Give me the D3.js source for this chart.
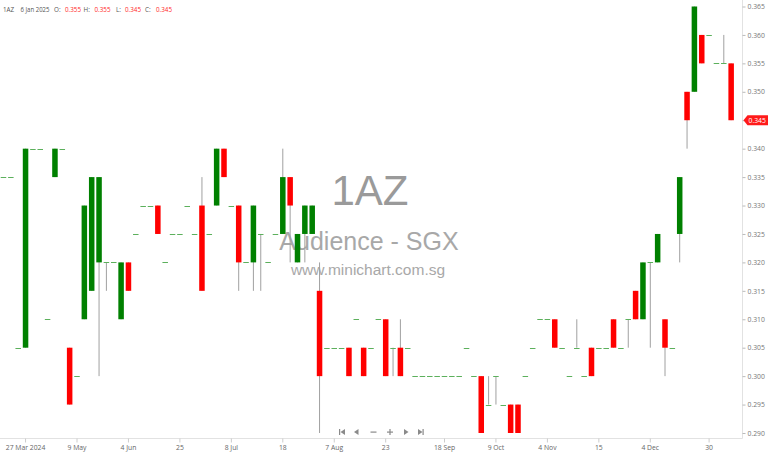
<!DOCTYPE html>
<html>
<head>
<meta charset="utf-8">
<script src="https://cdn.jsdelivr.net/npm/d3@7"></script>
<style>
  body { margin: 0; background: #fff; }
  svg { display: block; font-family: "Open Sans", sans-serif; }
</style>
</head>
<body>
<svg id="chart" width="768" height="454"></svg>
<script>
// daily sessions for 1AZ (only days that traded)
const opens = [
  .335,.335,.305,.305,.340,.340,.310,.335,.340,.305,
  .300,.310,.315,.320,.320,.320,.310,.320,.325,.330,
  .330,.330,.320,.325,.325,.330,.325,.330,.325,.330,
  .340,.330,.330,.320,.320,.325,.320,.325,.325,.335,
  .320,.325,.325,.315,.305,.305,.305,.305,.310,.305,
  .305,.310,.310,.305,.305,.305,.300,.300,.300,.300,
  .300,.300,.300,.305,.300,.300,.295,.300,.295,.295,
  .295,.300,.305,.310,.310,.310,.305,.300,.305,.300,
  .305,.305,.305,.310,.305,.310,.315,.310,.320,.320,
  .310,.305,.325,.350,.350,.360,.360,.355,.355,.355
];
const highs = [
  .335,.335,.305,.340,.340,.340,.310,.340,.340,.305,
  .300,.330,.335,.335,.320,.320,.320,.320,.325,.330,
  .330,.330,.320,.325,.325,.330,.325,.335,.325,.340,
  .340,.330,.330,.320,.330,.325,.320,.325,.340,.335,
  .325,.330,.330,.320,.305,.305,.305,.305,.310,.305,
  .305,.310,.310,.305,.310,.305,.300,.300,.300,.300,
  .300,.300,.300,.305,.300,.300,.300,.300,.295,.295,
  .295,.300,.305,.310,.310,.310,.305,.300,.310,.300,
  .305,.305,.305,.310,.305,.310,.315,.320,.320,.325,
  .310,.305,.335,.350,.365,.360,.360,.355,.360,.355
];
const lows = [
  .335,.335,.305,.305,.340,.340,.310,.335,.340,.295,
  .300,.310,.315,.300,.315,.320,.310,.315,.325,.330,
  .330,.325,.320,.325,.325,.330,.325,.315,.325,.330,
  .335,.330,.315,.320,.315,.315,.320,.325,.325,.320,
  .320,.320,.325,.290,.305,.305,.305,.300,.310,.300,
  .305,.310,.300,.300,.300,.305,.300,.300,.300,.300,
  .300,.300,.300,.305,.300,.290,.295,.295,.295,.290,
  .290,.300,.305,.310,.310,.305,.305,.300,.305,.300,
  .300,.305,.305,.305,.305,.305,.310,.310,.305,.320,
  .300,.305,.320,.340,.350,.355,.360,.355,.355,.345
];
const closes = [
  .335,.335,.305,.340,.340,.340,.310,.340,.340,.295,
  .300,.330,.335,.335,.320,.320,.320,.315,.325,.330,
  .330,.325,.320,.325,.325,.330,.325,.315,.325,.340,
  .335,.330,.320,.320,.330,.325,.320,.325,.335,.330,
  .325,.330,.330,.300,.305,.305,.305,.300,.310,.300,
  .305,.310,.300,.305,.300,.305,.300,.300,.300,.300,
  .300,.300,.300,.305,.300,.290,.295,.300,.295,.290,
  .290,.300,.305,.310,.310,.305,.305,.300,.305,.300,
  .300,.305,.305,.305,.305,.310,.310,.320,.320,.325,
  .305,.305,.335,.345,.365,.355,.360,.355,.355,.345
];

// x axis labels and the session they sit on
const tickIndex = [3, 10, 17, 24, 31, 38, 45, 52, 60, 67, 74, 81, 88, 96];
const tickLabels = ['27 Mar 2024', '9 May', '4 Jun', '25', '8 Jul', '18', '7 Aug',
                    '23', '18 Sep', '9 Oct', '4 Nov', '15', '4 Dec', '30'];
const priceTicks = [0.290, 0.295, 0.300, 0.305, 0.310, 0.315, 0.320, 0.325,
                    0.330, 0.335, 0.340, 0.345, 0.350, 0.355, 0.360, 0.365];

const lastLabel = '6 Jan 2025';

const svg = d3.select('#chart');
const axisX = 742.5, axisY = 438.5;

const x = d3.scaleBand()
  .domain(d3.range(opens.length))
  .range([-0.175, 734.825])
  .paddingInner(0.25)
  .paddingOuter(0.125);

const y = d3.scaleLinear()
  .domain([0.290, 0.365])
  .range([433, 6.5]);

const fmt = d3.format('.3f');

// watermark
const wm = svg.append('g').attr('font-family', '"Liberation Sans", Arial, sans-serif')
  .attr('text-anchor', 'middle');
wm.append('text').attr('x', 370).attr('y', 205).attr('font-size', 42)
  .attr('fill', '#9a9a9a').text('1AZ');
wm.append('text').attr('x', 369).attr('y', 250).attr('font-size', 25)
  .attr('fill', '#a8a8a8').text('Audience - SGX');
wm.append('text').attr('x', 368).attr('y', 275).attr('font-size', 15.5)
  .attr('fill', '#a8a8a8').text('www.minichart.com.sg');

// axes lines
svg.append('line').attr('x1', 0).attr('x2', axisX).attr('y1', axisY).attr('y2', axisY)
  .attr('stroke', '#e2e2e2');
svg.append('line').attr('x1', axisX).attr('x2', axisX).attr('y1', 0).attr('y2', axisY)
  .attr('stroke', '#e2e2e2');

// right price axis
const yAxis = d3.axisRight(y).tickValues(priceTicks).tickFormat(fmt)
  .tickSize(3).tickPadding(2);
const gy = svg.append('g').attr('transform', `translate(${axisX},0)`).call(yAxis);
gy.select('.domain').remove();
gy.selectAll('.tick line').attr('stroke', '#bbb');
gy.selectAll('.tick text').attr('fill', '#777').attr('font-size', 6.8)
  .attr('font-family', '"Open Sans", sans-serif');

// bottom date axis
const xAxis = d3.axisBottom(x).tickValues(tickIndex)
  .tickFormat((d) => tickLabels[tickIndex.indexOf(d)])
  .tickSize(4).tickPadding(3);
const gx = svg.append('g').attr('transform', `translate(0,${axisY})`).call(xAxis);
gx.select('.domain').remove();
gx.selectAll('.tick line').attr('stroke', '#ccc');
gx.selectAll('.tick text').attr('fill', '#666').attr('font-size', 6.8)
  .attr('font-family', '"Open Sans", sans-serif');

// candles
const bars = d3.range(opens.length).map(function(i) {
  return { i: i, o: opens[i], h: highs[i], l: lows[i], c: closes[i] };
});
const g = svg.append('g');
const bw = x.bandwidth();

g.selectAll('line.wick')
  .data(bars.filter((d) => d.h > d.l))
  .enter().append('line')
  .attr('class', 'wick')
  .attr('x1', (d) => x(d.i) + bw / 2)
  .attr('x2', (d) => x(d.i) + bw / 2)
  .attr('y1', (d) => y(d.h))
  .attr('y2', (d) => y(d.l))
  .attr('stroke', '#a0a0a0')
  .attr('stroke-width', 1);

g.selectAll('rect.body')
  .data(bars.filter((d) => d.o !== d.c))
  .enter().append('rect')
  .attr('class', 'body')
  .attr('x', (d) => x(d.i))
  .attr('width', bw)
  .attr('y', (d) => y(Math.max(d.o, d.c)))
  .attr('height', (d) => Math.abs(y(d.o) - y(d.c)))
  .attr('fill', (d) => d.c > d.o ? '#008000' : '#ff0000');

g.selectAll('line.doji')
  .data(bars.filter((d) => d.o === d.c))
  .enter().append('line')
  .attr('class', 'doji')
  .attr('x1', (d) => x(d.i))
  .attr('x2', (d) => x(d.i) + bw)
  .attr('y1', (d) => Math.round(y(d.c)) + 0.5)
  .attr('y2', (d) => Math.round(y(d.c)) + 0.5)
  .attr('stroke', '#5cb05c')
  .attr('stroke-width', 1);

// last price tag
const last = bars[bars.length - 1];
const ty = y(last.c);
svg.append('path')
  .attr('d', `M${axisX + 1},${ty} L${axisX + 5},${ty - 5} L768,${ty - 5} L768,${ty + 5} L${axisX + 5},${ty + 5} Z`)
  .attr('fill', '#ff1a1a');
svg.append('text').attr('x', axisX + 6).attr('y', ty + 2.4)
  .attr('font-size', 6.8).attr('fill', '#fff').text(fmt(last.c));

// legend
const leg = svg.append('text').attr('x', 3).attr('y', 11.5).attr('font-size', 6.3)
  .attr('fill', '#555');
leg.append('tspan').text('1AZ');
leg.append('tspan').attr('x', 20.5).attr('textLength', 29).attr('lengthAdjust', 'spacingAndGlyphs')
  .text(lastLabel);
const parts = [['O:', last.o, 54], ['H:', last.h, 83.5], ['L:', last.l, 116], ['C:', last.c, 145]];
parts.forEach(function(p) {
  leg.append('tspan').attr('x', p[2]).text(p[0]);
  leg.append('tspan').attr('x', p[2] + (p[0] === 'L:' ? 9 : 11)).attr('fill', '#ff2a2a').text(fmt(p[1]));
});

// navigation buttons
const nav = svg.append('g').attr('fill', '#8a8a8a');
const ny = 432;
nav.append('rect').attr('x', 339).attr('y', ny - 3).attr('width', 1.2).attr('height', 6);
nav.append('path').attr('d', `M340.5,${ny} L345,${ny - 3} L345,${ny + 3} Z`);
nav.append('path').attr('d', `M354,${ny} L358.5,${ny - 3} L358.5,${ny + 3} Z`);
nav.append('rect').attr('x', 370.5).attr('y', ny - 0.5).attr('width', 6).attr('height', 1.2);
nav.append('rect').attr('x', 387).attr('y', ny - 0.5).attr('width', 6).attr('height', 1.2);
nav.append('rect').attr('x', 389.4).attr('y', ny - 3).attr('width', 1.2).attr('height', 6);
nav.append('path').attr('d', `M408.5,${ny} L404,${ny - 3} L404,${ny + 3} Z`);
nav.append('path').attr('d', `M422.5,${ny} L418,${ny - 3} L418,${ny + 3} Z`);
nav.append('rect').attr('x', 422.5).attr('y', ny - 3).attr('width', 1.2).attr('height', 6);
</script>
</body>
</html>
